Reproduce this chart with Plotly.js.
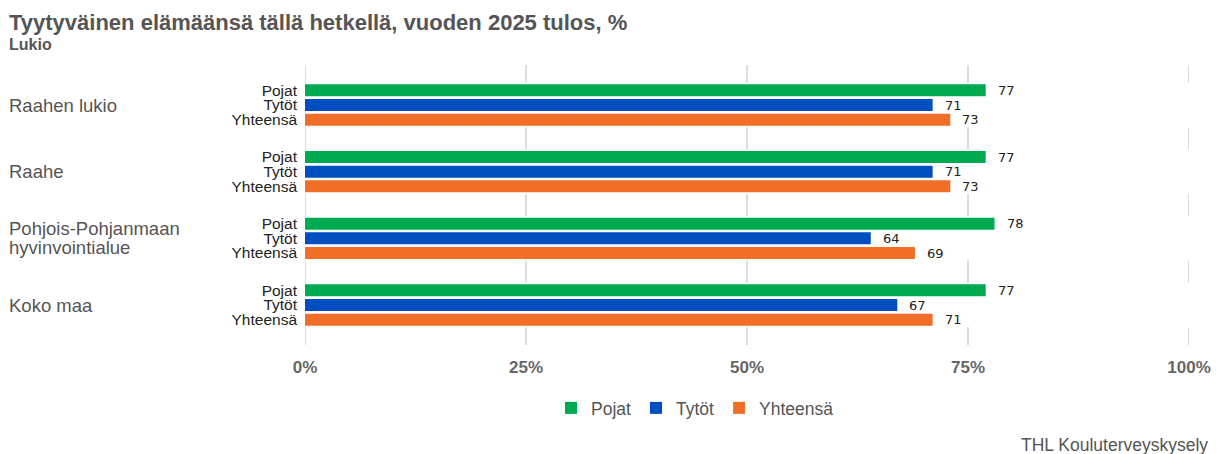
<!DOCTYPE html>
<html>
<head>
<meta charset="utf-8">
<script src="https://cdn.plot.ly/plotly-3.0.1.min.js"></script>
<style>html,body{margin:0;padding:0;background:#fff;}#chart{width:1221px;height:454px;}</style>
</head>
<body>
<div id="chart"></div>
<script>
// ---- data ----
const groups = ["Raahen lukio", "Raahe", "Pohjois-Pohjanmaan\nhyvinvointialue", "Koko maa"];
const seriesNames = ["Pojat", "Tytöt", "Yhteensä"];
const pojat = [77, 77, 78, 77];
const tytot = [71, 71, 64, 67];
const yhteensa = [73, 73, 69, 71];
const xTickVals = [0, 25, 50, 75, 100];
const xTickText = ["0%", "25%", "50%", "75%", "100%"];
const titleText = "Tyytyväinen elämäänsä tällä hetkellä, vuoden 2025 tulos, %";
const subtitleText = "Lukio";
const sourceText = "THL Kouluterveyskysely";

// ---- styling / layout ----
const colors = ["#00aa50", "#004fc0", "#f06e28"];
const W = 1221, H = 454;
const M = {l: 305, r: 32, t: 65, b: 109};
const PW = W - M.l - M.r, PH = H - M.t - M.b;
const px2x = p => (p - M.l) / PW;
const py2y = p => 1 - (p - M.t) / PH;
const step = 0.22, barW = 0.18;

const values = [pojat, tytot, yhteensa];
const traces = [];
const tickvals = [], ticktext = [];
const annotations = [];
values.forEach((vals, j) => {
  const ys = groups.map((g, i) => i + (j - 1) * step);
  traces.push({
    type: "bar", orientation: "h", name: seriesNames[j],
    x: vals, y: ys, width: barW,
    marker: {color: colors[j], line: {width: 0}},
    hoverinfo: "x+name"
  });
  ys.forEach((y, i) => {
    tickvals.push(y); ticktext.push(seriesNames[j]);
    annotations.push({
      x: vals[i], y: y, xref: "x", yref: "y", text: String(vals[i]),
      xanchor: "left", yanchor: "middle", xshift: 10, showarrow: false,
      font: {family: "DejaVu Sans, Verdana, sans-serif", size: 13, color: "#222"}
    });
  });
});

const shapes = [];
// gridlines (drawn as shapes so the group bands can mask them)
xTickVals.forEach(v => {
  shapes.push({type: "line", layer: "below", xref: "x", yref: "paper",
    x0: v, x1: v, y0: 0, y1: 1, line: {color: "#dcdcdc", width: 2}});
});
groups.forEach((g, i) => {
  shapes.push({type: "rect", layer: "below", xref: "paper", yref: "y",
    x0: -0.01, x1: 1.01, y0: i - 0.335, y1: i + 0.335, fillcolor: "#fff", line: {width: 0}});
  const lines = g.split("\n");
  const gap = 19;
  lines.forEach((ln, k) => {
    annotations.push({
      x: px2x(7), y: i, xref: "paper", yref: "y", text: ln,
      xanchor: "left", yanchor: "middle", showarrow: false,
      yshift: -((k - (lines.length - 1) / 2) * gap),
      font: {family: "Liberation Sans, Arial, sans-serif", size: 18.5, color: "#555"}
    });
  });
});

annotations.push({
  x: px2x(7), y: py2y(44), xref: "paper", yref: "paper", text: "<b>" + subtitleText + "</b>",
  xanchor: "left", yanchor: "middle", showarrow: false,
  font: {family: "Liberation Sans, Arial, sans-serif", size: 16, color: "#555"}
});
annotations.push({
  x: px2x(1210), y: py2y(445), xref: "paper", yref: "paper", text: sourceText,
  xanchor: "right", yanchor: "middle", showarrow: false,
  font: {family: "Liberation Sans, Arial, sans-serif", size: 17.5, color: "#555"}
});

const layout = {
  width: W, height: H, margin: M,
  paper_bgcolor: "#fff", plot_bgcolor: "#fff",
  font: {family: "Liberation Sans, Arial, sans-serif", color: "#555"},
  title: {
    text: "<b>" + titleText + "</b>", xref: "container", yref: "container",
    x: 9 / W, xanchor: "left", y: 1 - 22 / H, yanchor: "middle",
    font: {family: "Liberation Sans, Arial, sans-serif", size: 22, color: "#555"}
  },
  barmode: "overlay",
  showlegend: true,
  legend: {
    orientation: "h", x: px2x(551), xanchor: "left", y: py2y(408), yanchor: "middle",
    font: {family: "Liberation Sans, Arial, sans-serif", size: 17.5, color: "#555"},
    traceorder: "normal"
  },
  xaxis: {
    range: [0, 100], fixedrange: true,
    tickvals: xTickVals, ticktext: xTickText.map(t => "<b>" + t + "</b>"),
    showgrid: false, zeroline: false,
    showline: false, ticks: "", ticklabelstandoff: 10,
    tickfont: {family: "Liberation Sans, Arial, sans-serif", size: 17, color: "#666"}
  },
  yaxis: {
    range: [groups.length - 0.4, -0.6], fixedrange: true,
    tickvals: tickvals, ticktext: ticktext,
    showgrid: false, zeroline: false, showline: false, ticks: "",
    ticklabelstandoff: 7,
    tickfont: {family: "Liberation Sans, Arial, sans-serif", size: 15.5, color: "#222"}
  },
  shapes: shapes,
  annotations: annotations
};

Plotly.newPlot("chart", traces, layout, {displayModeBar: false, staticPlot: true});
</script>
</body>
</html>
